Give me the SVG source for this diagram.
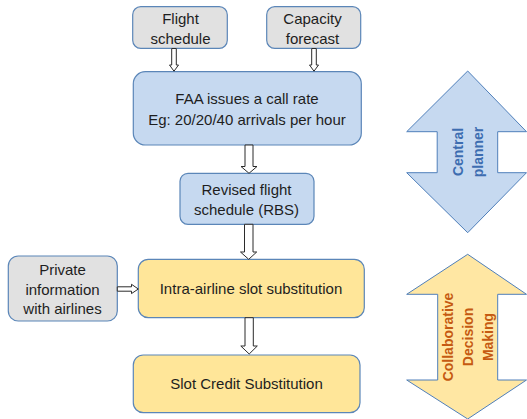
<svg xmlns="http://www.w3.org/2000/svg" width="527" height="419" viewBox="0 0 527 419">
  <style>
    .box { stroke: #5b86b8; stroke-width: 1.2; }
    .gray { fill: #e1e1e1; }
    .blue { fill: #c6d9f0; }
    .yellow { fill: #ffe699; }
    .lbl { font-family: "Liberation Sans", Arial, sans-serif; font-size: 15px; fill: #1e1e1e; text-anchor: middle; }
    .blk { fill: #ffffff; stroke: #2b2b2b; stroke-width: 1; stroke-linejoin: miter; }
    .big { stroke: #4f7fba; stroke-width: 1; }
    .side { font-family: "Liberation Sans", Arial, sans-serif; font-size: 14px; font-weight: bold; text-anchor: middle; }
  </style>

  <rect width="527" height="419" fill="#ffffff"/>

  <!-- side indicators -->
  <g id="central-planner">
    <polygon class="big" fill="#c6d9f0" points="467.7,71 526.5,131.7 497.7,131.7 497.7,172.7 526.5,172.7 467.7,232.7 406.7,172.7 437.2,172.7 437.2,131.7 406.7,131.7"/>
    <g class="side" fill="#3d6db0">
      <text transform="translate(458,152) rotate(-90)" y="5">Central</text>
      <text transform="translate(478,152) rotate(-90)" y="5">planner</text>
    </g>
  </g>

  <g id="cdm">
    <polygon class="big" fill="#ffe7a3" points="467.7,254.3 526.5,294.3 497.7,294.3 497.7,380 526.5,380 467.7,419 406.7,380 437.7,380 437.7,294.3 406.7,294.3"/>
    <g class="side" fill="#c55a11">
      <text transform="translate(448,337) rotate(-90)" y="5">Collaborative</text>
      <text transform="translate(468,337) rotate(-90)" y="5">Decision</text>
      <text transform="translate(488,337) rotate(-90)" y="5">Making</text>
    </g>
  </g>

  <!-- process boxes -->
  <g id="flight-schedule">
    <rect class="box gray" x="132.7" y="6.7" width="94.6" height="41.6" rx="8"/>
    <text class="lbl" x="180.5" y="24">Flight</text>
    <text class="lbl" x="180.5" y="44">schedule</text>
  </g>

  <g id="capacity-forecast">
    <rect class="box gray" x="266.7" y="6.7" width="94" height="41.6" rx="8"/>
    <text class="lbl" x="312.5" y="24">Capacity</text>
    <text class="lbl" x="312.5" y="44">forecast</text>
  </g>

  <g id="call-rate">
    <rect class="box blue" x="133.3" y="71.7" width="228" height="73.3" rx="12"/>
    <text class="lbl" x="247" y="104">FAA issues a call rate</text>
    <text class="lbl" x="247" y="125">Eg: 20/20/40 arrivals per hour</text>
  </g>

  <g id="rbs">
    <rect class="box blue" x="180" y="173.3" width="134" height="51" rx="8"/>
    <text class="lbl" x="246.5" y="195">Revised flight</text>
    <text class="lbl" x="246.5" y="215">schedule (RBS)</text>
  </g>

  <g id="private-info">
    <rect class="box gray" x="8.3" y="256" width="109" height="65" rx="10"/>
    <text class="lbl" x="62.5" y="275">Private</text>
    <text class="lbl" x="62.5" y="294.5">information</text>
    <text class="lbl" x="62.5" y="314">with airlines</text>
  </g>

  <g id="intra-airline">
    <rect class="box yellow" x="138.3" y="259.3" width="226" height="58.4" rx="10"/>
    <text class="lbl" x="251" y="294">Intra-airline slot substitution</text>
  </g>

  <g id="slot-credit">
    <rect class="box yellow" x="133.3" y="355" width="226.7" height="57.7" rx="10"/>
    <text class="lbl" x="246.5" y="389">Slot Credit Substitution</text>
  </g>

  <!-- block-arrow connectors -->
  <g id="connectors">
    <polygon class="blk" points="171.7,48.5 176.3,48.5 176.3,65 178.5,65 174,71.2 169.5,65 171.7,65"/>
    <polygon class="blk" points="311.7,48.5 316.3,48.5 316.3,65 318.5,65 314,71.2 309.5,65 311.7,65"/>
    <polygon class="blk" points="245,145 253,145 253,166.5 257,166.5 249,173.3 241,166.5 245,166.5"/>
    <polygon class="blk" points="244.5,224.3 253,224.3 253,252 256.7,252 248.7,259.3 240.5,252 244.5,252"/>
    <polygon class="blk" points="245,317.7 253.3,317.7 253.3,346 257.3,346 249.2,354 240.8,346 245,346"/>
    <polygon class="blk" points="117.3,286.8 131.5,286.8 131.5,284.3 138.3,289 131.5,293.6 131.5,291.2 117.3,291.2"/>
  </g>
</svg>
